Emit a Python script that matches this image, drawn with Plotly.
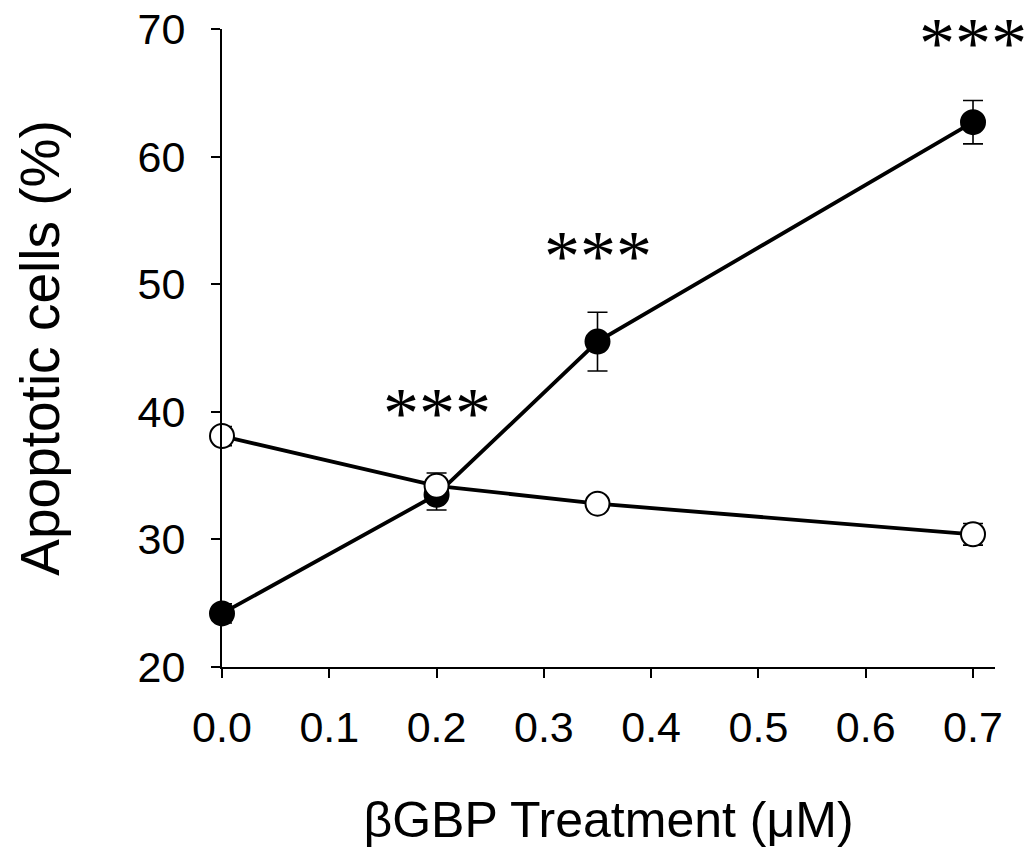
import plotly.graph_objects as go

# Treatment concentrations (µM)
dose = [0.0, 0.2, 0.35, 0.7]

# Apoptotic cells (%) with standard errors
filled_mean = [24.2, 33.5, 45.5, 62.7]
filled_err = [0.75, 1.2, 2.3, 1.7]
open_mean = [38.1, 34.2, 32.8, 30.4]
open_err = [0.75, 1.0, 0.4, 0.85]

# Significance marks (centre height in % units)
sig_x = [0.2, 0.35, 0.7]
sig_y = [39.9, 52.2, 68.9]
sig_label = ["***", "***", "***"]

x_ticks = [0.0, 0.1, 0.2, 0.3, 0.4, 0.5, 0.6, 0.7]
y_ticks = [20, 30, 40, 50, 60, 70]

FONT = "Liberation Sans, Arial, sans-serif"

fig = go.Figure()

err_style = dict(type="data", visible=True, color="black", thickness=1.6, width=10)

fig.add_trace(go.Scatter(
    x=dose, y=filled_mean,
    error_y=dict(array=filled_err, **err_style),
    mode="lines+markers",
    line=dict(color="black", width=3.8),
    marker=dict(size=24, color="black", line=dict(color="black", width=2)),
    cliponaxis=False, showlegend=False,
))

fig.add_trace(go.Scatter(
    x=dose, y=open_mean,
    error_y=dict(array=open_err, **err_style),
    mode="lines+markers",
    line=dict(color="black", width=3.8),
    marker=dict(size=24, color="white", line=dict(color="black", width=2)),
    cliponaxis=False, showlegend=False,
))

for xs, ys, lab in zip(sig_x, sig_y, sig_label):
    fig.add_annotation(
        x=xs, y=ys, text=lab, showarrow=False,
        xanchor="center", yanchor="middle",
        font=dict(family="Liberation Serif, Times New Roman, serif", size=72, color="black"),
    )

axis_common = dict(
    showline=True, linecolor="black", linewidth=2,
    ticks="outside", ticklen=9, tickwidth=2, tickcolor="black",
    showgrid=False, zeroline=False,
    tickfont=dict(family=FONT, size=43, color="black"),
)

fig.update_xaxes(
    range=[0, 0.7205], tickvals=x_ticks, ticktext=[f"{v:.1f}" for v in x_ticks],
    ticklabelstandoff=12,
    title=dict(text="βGBP Treatment (μM)", font=dict(family=FONT, size=50, color="black"), standoff=52),
    **axis_common,
)
fig.update_yaxes(
    range=[20, 70], tickvals=y_ticks,
    ticklabelstandoff=17,
    title=dict(text="Apoptotic cells (%)", font=dict(family=FONT, size=55, color="black"), standoff=60),
    **axis_common,
)

fig.update_layout(
    width=1031, height=858,
    margin=dict(l=222, r=36, t=29, b=191, autoexpand=False),
    plot_bgcolor="white", paper_bgcolor="white",
)

fig.write_html("out.html")
